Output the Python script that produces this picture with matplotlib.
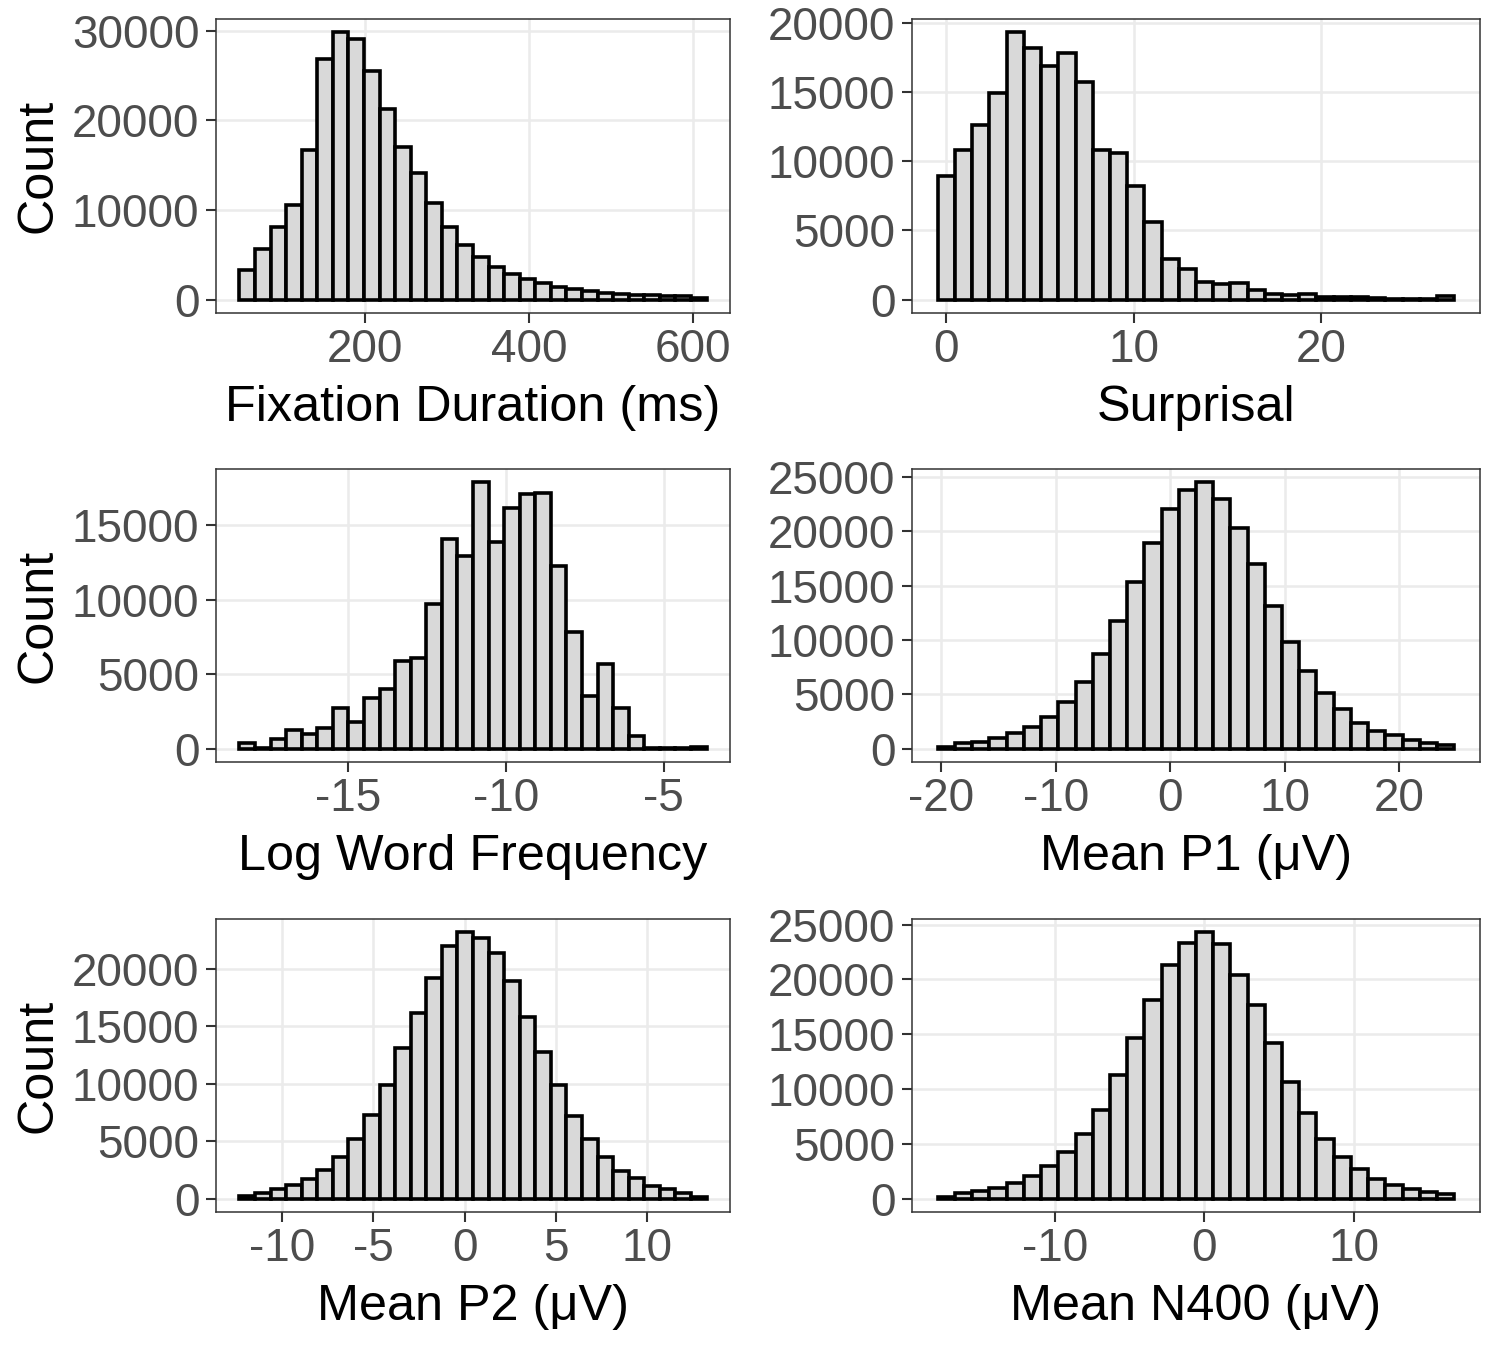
import numpy as np
import matplotlib
matplotlib.use('Agg')
import matplotlib.pyplot as plt

plt.rcParams['font.family'] = ['Liberation Sans', 'DejaVu Sans']
plt.rcParams['axes.unicode_minus'] = False

# counts per bin (30 bins each)
fix_counts = [3300, 5700, 8100, 10600, 16700, 26800, 29800, 29100, 25500, 21200,
              17000, 14100, 10800, 8100, 6100, 4700, 3600, 2900, 2300, 1800,
              1400, 1200, 950, 780, 630, 550, 480, 400, 370, 220]
surp_counts = [8900, 10800, 12600, 14900, 19300, 18200, 16900, 17800, 15700, 10800,
               10600, 8200, 5600, 2900, 2200, 1250, 1100, 1200, 720, 380,
               340, 380, 190, 170, 170, 100, 70, 70, 70, 260]
freq_counts = [380, 40, 620, 1250, 960, 1400, 2740, 1780, 3400, 4030,
               5880, 6120, 9710, 14100, 12960, 17900, 13900, 16200, 17100, 17200,
               12250, 7860, 3560, 5680, 2740, 850, 30, 30, 30, 130]
p1_counts = [180, 490, 640, 950, 1400, 1980, 2900, 4300, 6100, 8700,
             11700, 15300, 18900, 22000, 23800, 24500, 23000, 20300, 17000, 13100,
             9850, 7160, 5120, 3660, 2380, 1650, 1250, 820, 550, 340]
p2_counts = [200, 520, 810, 1160, 1680, 2520, 3650, 5160, 7330, 9880,
             13100, 16200, 19200, 22000, 23200, 22700, 21400, 19000, 15800, 12750,
             9900, 7200, 5160, 3650, 2430, 1800, 1130, 810, 520, 170]
n400_counts = [120, 480, 700, 1000, 1390, 2060, 2970, 4300, 5900, 8100,
               11300, 14700, 18100, 21300, 23300, 24300, 23200, 20400, 17700, 14200,
               10600, 7800, 5450, 3760, 2670, 1820, 1240, 910, 600, 390]

# first bin edge and bin width
bin_start = [46.7, -0.45, -18.43, -20.31, -12.32, -17.84]
bin_width = [19.0, 0.918, 0.493, 1.503, 0.852, 1.152]

x_titles = ['Fixation Duration (ms)', 'Surprisal', 'Log Word Frequency',
            'Mean P1 (μV)', 'Mean P2 (μV)', 'Mean N400 (μV)']
x_ticks = [[200, 400, 600], [0, 10, 20], [-15, -10, -5],
           [-20, -10, 0, 10, 20], [-10, -5, 0, 5, 10], [-10, 0, 10]]
y_ticks = [[0, 10000, 20000, 30000], [0, 5000, 10000, 15000, 20000],
           [0, 5000, 10000, 15000], [0, 5000, 10000, 15000, 20000, 25000],
           [0, 5000, 10000, 15000, 20000], [0, 5000, 10000, 15000, 20000, 25000]]
all_counts = [fix_counts, surp_counts, freq_counts, p1_counts, p2_counts, n400_counts]

fig = plt.figure(figsize=(15, 13.5), dpi=100)

W, H = 1500., 1350.
lefts = [216, 912]
rights = [730, 1480]
tops = [19, 469, 919]
bottoms = [313, 762, 1212]

for k in range(6):
    r, c = k // 2, k % 2
    ax = fig.add_axes([lefts[c] / W, 1 - bottoms[r] / H,
                       (rights[c] - lefts[c]) / W, (bottoms[r] - tops[r]) / H])
    counts = np.array(all_counts[k], dtype=float)
    edges = bin_start[k] + bin_width[k] * np.arange(len(counts) + 1)

    ax.set_axisbelow(True)
    ax.grid(True, color='#EBEBEB', linewidth=1.8)
    ax.bar(edges[:-1], counts, width=bin_width[k], align='edge',
           facecolor='#D9D9D9', edgecolor='black', linewidth=2.6)

    lo, hi = edges[0], edges[-1]
    rng = hi - lo
    ax.set_xlim(lo - 0.05 * rng, hi + 0.05 * rng)
    ymax = counts.max()
    ax.set_ylim(-0.05 * ymax, 1.05 * ymax)

    ax.set_xticks(x_ticks[k])
    ax.set_xticklabels([str(v) for v in x_ticks[k]])
    ax.set_yticks(y_ticks[k])
    ax.set_yticklabels([str(v) for v in y_ticks[k]])
    ax.tick_params(axis='both', labelsize=33, labelcolor='#4D4D4D', color='#333333',
                   width=1.5, length=7)
    ax.tick_params(axis='y', pad=5)
    ax.tick_params(axis='x', pad=4)

    for s in ax.spines.values():
        s.set_color('#333333')
        s.set_linewidth(1.1)

    ax.set_xlabel(x_titles[k], fontsize=36.3, color='black', labelpad=9)
    if c == 0:
        ax.set_ylabel('Count', fontsize=36.3, color='black')
        ax.yaxis.set_label_coords(-0.300, 0.5)

fig.savefig('out.png', dpi=100)
